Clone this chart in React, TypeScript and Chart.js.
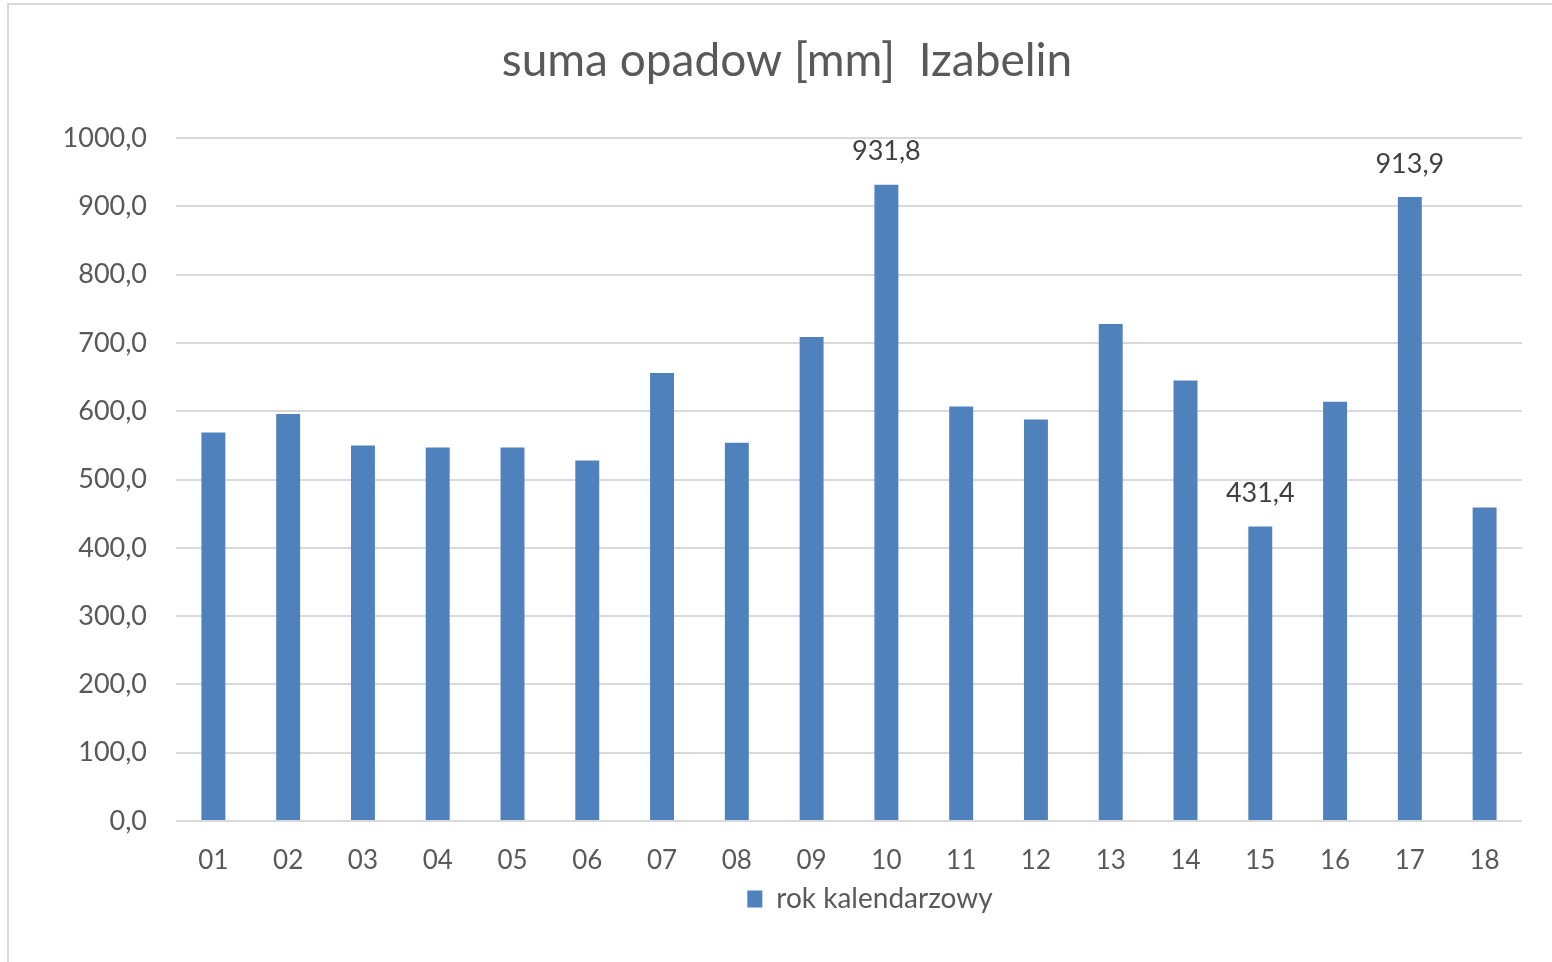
import React, { useEffect, useRef } from "react";
import { Chart, registerables } from "chart.js";

Chart.register(...registerables);

const categories = ["01","02","03","04","05","06","07","08","09","10","11","12","13","14","15","16","17","18"];
const rainfall = [569, 596, 550, 547, 547, 528, 656, 554, 709, 931.8, 607, 588, 728, 645, 431.4, 614, 913.9, 459];
const labelledCategories = ["10", "15", "17"];
const seriesName = "rok kalendarzowy";
const titleText = "suma opadow [mm]  Izabelin";

const FONT = "Lato, 'Open Sans', sans-serif";
const fmt = (v: number) => v.toFixed(1).replace(".", ",");

const dataLabels = {
  id: "dataLabels",
  afterDatasetsDraw(chart: any) {
    const ctx = chart.ctx;
    const meta = chart.getDatasetMeta(0);
    ctx.save();
    ctx.font = `27px ${FONT}`;
    ctx.fillStyle = "#404040";
    ctx.textAlign = "center";
    ctx.textBaseline = "middle";
    meta.data.forEach((bar: any, i: number) => {
      if (labelledCategories.includes(categories[i])) {
        ctx.fillText(fmt(rainfall[i]), bar.x, bar.y - 33);
      }
    });
    ctx.restore();
  },
};

const boxShift = {
  id: "boxShift",
  afterLayout(chart: any) {
    const lg = chart.legend;
    if (lg) {
      lg.left += 109;
      lg.right += 109;
    }
    const tt = chart.titleBlock;
    if (tt) {
      tt.left += 26;
      tt.right += 26;
    }
  },
};

export default function App() {
  const ref = useRef<HTMLCanvasElement>(null);
  useEffect(() => {
    if (!ref.current) return;
    const chart = new Chart(ref.current, {
      type: "bar",
      data: {
        labels: categories,
        datasets: [
          {
            label: seriesName,
            data: rainfall,
            backgroundColor: "#4f81bd",
            borderWidth: 0,
            barPercentage: 1,
            categoryPercentage: 0.32,
          },
        ],
      },
      options: {
        responsive: false,
        animation: false,
        devicePixelRatio: 1,
        layout: { padding: { left: 0, right: 30, top: 0, bottom: 39 } },
        plugins: {
          title: {
            display: true,
            text: titleText,
            color: "#595959",
            font: { family: FONT, size: 46, weight: "normal" },
            padding: { top: 34, bottom: 49 },
          },
          legend: {
            position: "bottom",
            labels: {
              color: "#595959",
              font: { family: FONT, size: 28 },
              boxWidth: 15,
              boxHeight: 17,
              padding: 4,
            },
          },
          tooltip: { enabled: false },
        },
        scales: {
          x: {
            grid: { display: false, drawTicks: false },
            border: { display: false },
            ticks: {
              color: "#595959",
              font: { family: FONT, size: 26 },
              padding: 24,
              maxRotation: 0,
            },
            afterFit: (s: any) => {
              s.height = 60;
            },
          },
          y: {
            min: 0,
            max: 1000,
            grid: { color: "#d9d9d9", lineWidth: 2, drawTicks: false },
            border: { display: false },
            ticks: {
              stepSize: 100,
              color: "#595959",
              font: { family: FONT, size: 27 },
              padding: 29,
              callback: (v: any) => fmt(Number(v)),
            },
            afterFit: (s: any) => {
              s.width = 176;
            },
          },
        },
      },
      plugins: [dataLabels, boxShift],
    });
    return () => chart.destroy();
  }, []);

  return (
    <div style={{ position: "fixed", inset: 0, overflow: "hidden", background: "#fff" }}>
      <div
        style={{
          position: "absolute",
          left: 7,
          top: 3,
          width: 1700,
          height: 1100,
          border: "2px solid #d9d9d9",
        }}
      />
      <canvas
        ref={ref}
        width={1552}
        height={962}
        style={{ position: "absolute", left: 0, top: 0, width: 1552, height: 962 }}
      />
    </div>
  );
}
